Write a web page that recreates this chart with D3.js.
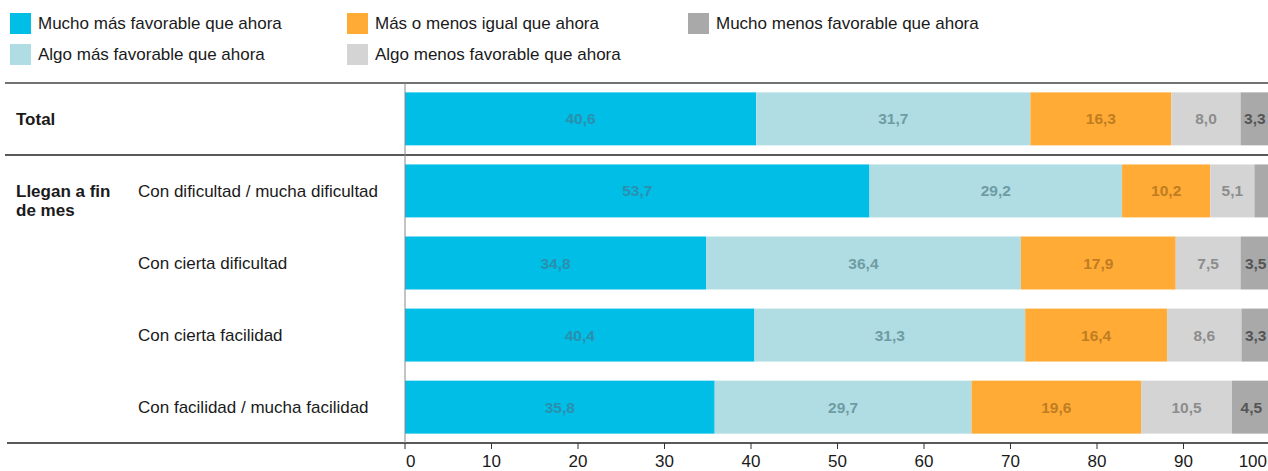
<!DOCTYPE html>
<html>
<head>
<meta charset="utf-8">
<script src="https://cdn.jsdelivr.net/npm/d3@7"></script>
<style>
  body { margin: 0; background: #fff; }
  svg { display: block; font-family: "Liberation Sans", Arial, sans-serif; }
  .leg-text { font-size: 17px; fill: #1a1a1a; }
  .cat { font-size: 17px; fill: #1a1a1a; }
  .bold { font-weight: bold; }
  .val { font-size: 15.5px; font-weight: bold; }
  .tick-lab { font-size: 17px; fill: #1a1a1a; }
</style>
</head>
<body>
<div id="chart"></div>
<script>
// data
const rows = ["Total", "Con dificultad / mucha dificultad", "Con cierta dificultad", "Con cierta facilidad", "Con facilidad / mucha facilidad"]
const seriesNames = ["Mucho más favorable que ahora", "Algo más favorable que ahora", "Más o menos igual que ahora", "Algo menos favorable que ahora", "Mucho menos favorable que ahora"]
const muchoMas = [40.6, 53.7, 34.8, 40.4, 35.8]
const algoMas = [31.7, 29.2, 36.4, 31.3, 29.7]
const igual = [16.3, 10.2, 17.9, 16.4, 19.6]
const algoMenos = [8.0, 5.1, 7.5, 8.6, 10.5]
const muchoMenos = [3.3, 1.8, 3.5, 3.3, 4.5]
const xTicks = [0, 10, 20, 30, 40, 50, 60, 70, 80, 90, 100]

const colours = ["#00bee6", "#b0dde3", "#ffab36", "#d4d4d4", "#a9a9a9"]
const labelColours = ["#2a90ae", "#6e9ca3", "#c07d22", "#8c8c8c", "#555555"]

const width = 1268, height = 471
const plotLeft = 405, plotRight = 1270
const plotTop = 83, plotBottom = 443

const seriesVals = [muchoMas, algoMas, igual, algoMenos, muchoMenos]
const table = rows.map((r, i) => {
    const o = { row: r }
    seriesNames.forEach((s, j) => { o[s] = seriesVals[j][i] })
    return o
})
const stacked = d3.stack().keys(seriesNames)(table)

const svg = d3.select("#chart").append("svg")
    .attr("width", width)
    .attr("height", height)

const x = d3.scaleLinear().domain([0, 100]).range([plotLeft, plotRight])
const y = d3.scaleBand().domain(rows).range([plotTop, plotBottom]).paddingInner(0.265).paddingOuter(0.13)

// legend
const legPos = [[10, 13], [10, 44], [347, 13], [347, 44], [688, 13]]
const leg = svg.append("g")
seriesNames.forEach((s, i) => {
    const [lx, ly] = legPos[i]
    leg.append("rect").attr("x", lx).attr("y", ly).attr("width", 21).attr("height", 21).attr("fill", colours[i])
    leg.append("text").attr("class", "leg-text").attr("x", lx + 28).attr("y", ly + 16).text(s)
})

// bars
const layers = svg.append("g").selectAll("g")
    .data(stacked)
    .enter()
    .append("g")
    .attr("fill", (d, i) => colours[i])

layers.selectAll("rect")
    .data(d => d)
    .enter()
    .append("rect")
    .attr("x", d => x(d[0]))
    .attr("y", d => y(d.data.row))
    .attr("width", d => x(d[1]) - x(d[0]))
    .attr("height", y.bandwidth())

const vals = svg.append("g")
stacked.forEach((layer, i) => {
    vals.selectAll(null)
        .data(layer.filter(d => d[1] - d[0] >= 3))
        .enter()
        .append("text")
        .attr("class", "val")
        .attr("x", d => (x(d[0]) + x(d[1])) / 2)
        .attr("y", d => y(d.data.row) + y.bandwidth() / 2 + 5.5)
        .attr("text-anchor", "middle")
        .attr("fill", labelColours[i])
        .text(d => (d[1] - d[0]).toFixed(1).replace(".", ","))
})

// rules
const sep = plotTop + y.step()
svg.append("line").attr("x1", 5).attr("x2", width).attr("y1", plotTop).attr("y2", plotTop).attr("stroke", "#444").attr("stroke-width", 1.5)
svg.append("line").attr("x1", 5).attr("x2", width).attr("y1", sep).attr("y2", sep).attr("stroke", "#222").attr("stroke-width", 1.5)
svg.append("line").attr("x1", 7).attr("x2", width).attr("y1", plotBottom).attr("y2", plotBottom).attr("stroke", "#222").attr("stroke-width", 1.5)
svg.append("line").attr("x1", plotLeft).attr("x2", plotLeft).attr("y1", plotTop).attr("y2", plotBottom).attr("stroke", "#888").attr("stroke-width", 1)

// axis
const axis = svg.append("g")
axis.selectAll("line.tk")
    .data(xTicks)
    .enter()
    .append("line")
    .attr("x1", d => x(d)).attr("x2", d => x(d))
    .attr("y1", plotBottom).attr("y2", plotBottom + 6)
    .attr("stroke", "#333")
axis.selectAll("text")
    .data(xTicks)
    .enter()
    .append("text")
    .attr("class", "tick-lab")
    .attr("x", d => d === 0 ? x(d) + 1 : d === 100 ? width - 1 : x(d))
    .attr("y", plotBottom + 24)
    .attr("text-anchor", d => d === 0 ? "start" : d === 100 ? "end" : "middle")
    .text(d => d)

// row labels
svg.append("text").attr("class", "cat bold").attr("x", 16).attr("y", y(rows[0]) + y.bandwidth() / 2 + 6).text(rows[0])
svg.selectAll("text.sub")
    .data(rows.slice(1))
    .enter()
    .append("text")
    .attr("class", "cat sub")
    .attr("x", 138)
    .attr("y", d => y(d) + y.bandwidth() / 2 + 6)
    .text(d => d)
const grp = svg.append("text").attr("class", "cat bold").attr("x", 16).attr("y", y(rows[1]) + y.bandwidth() / 2 + 6)
grp.append("tspan").attr("x", 16).text("Llegan a fin")
grp.append("tspan").attr("x", 16).attr("dy", 19).text("de mes")
</script>
</body>
</html>
